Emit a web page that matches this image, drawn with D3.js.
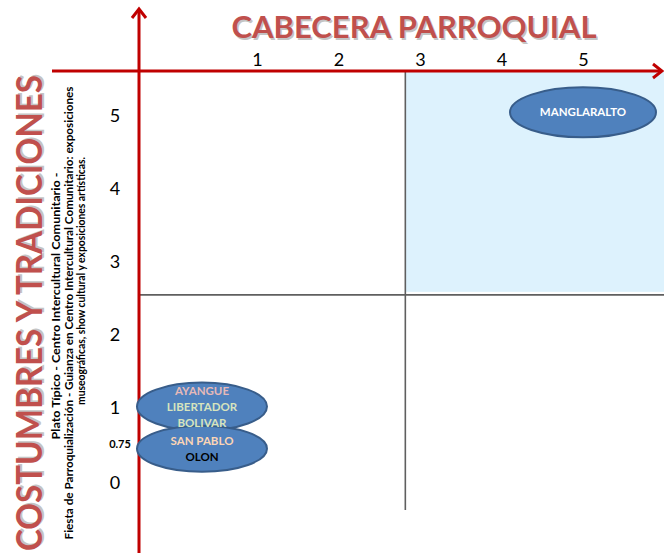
<!DOCTYPE html>
<html><head><meta charset="utf-8">
<script src="https://cdn.jsdelivr.net/npm/d3@7"></script>
<style>html,body{margin:0;padding:0;background:#fff;}svg{display:block;}</style>
</head><body>
<script>
// ---------- data ----------
const xTickLabels = ["1", "2", "3", "4", "5"];
const xTickValues = [1, 2, 3, 4, 5];
const yTickLabels = ["0", "0.75", "1", "2", "3", "4", "5"];
const yTickValues = [0, 0.75, 1, 2, 3, 4, 5];
const xTitle = "CABECERA PARROQUIAL";
const yTitle = "COSTUMBRES Y TRADICIONES";
const yNotes = [
  "Plato Típico - Centro Intercultural Comunitario -",
  "Fiesta de Parroquialización - Guianza en Centro  Intercultural  Comunitario: exposiciones",
  "museográficas, show cultural y exposiciones artísticas."
];
const divider = { x: 2.82, y: 2.55 };
const siteNames = [["MANGLARALTO"], ["AYANGUE", "LIBERTADOR", "BOLIVAR"], ["SAN PABLO", "OLON"]];
const siteX = [5, 0.325, 0.325];
const siteY = [5.05, 1.02, 0.66];
const nameColors = {
  "MANGLARALTO": "#ffffff", "AYANGUE": "#e6b9b8", "LIBERTADOR": "#d7e4bd",
  "BOLIVAR": "#d7e4bd", "SAN PABLO": "#fcd5b5", "OLON": "#000000"
};

// ---------- layout ----------
const W = 664, H = 553;
const red = "#c00000";
const svg = d3.select("body").append("svg").attr("width", W).attr("height", H);

const x = d3.scaleLinear().domain([1, 5]).range([257, 583]);
const y = d3.scaleLinear().domain([0, 0.75, 1, 5]).range([483, 444, 408, 116]);
const axisX = 139, axisY = 71;
const font = "Lato, 'Open Sans', sans-serif";

// highlighted quadrant
svg.append("rect")
  .attr("x", x(divider.x)).attr("y", axisY)
  .attr("width", W - x(divider.x)).attr("height", y(divider.y) - 3 - axisY)
  .attr("fill", "#ddf2fd");

// dividers
svg.append("line").attr("x1", axisX).attr("x2", W).attr("y1", y(divider.y)).attr("y2", y(divider.y))
  .attr("stroke", "#5f5f5f").attr("stroke-width", 1.6);
svg.append("line").attr("x1", x(divider.x)).attr("x2", x(divider.x)).attr("y1", axisY).attr("y2", 510)
  .attr("stroke", "#5f5f5f").attr("stroke-width", 1.6);

// axes lines with arrows
svg.append("line").attr("x1", 52).attr("x2", 661).attr("y1", axisY).attr("y2", axisY)
  .attr("stroke", red).attr("stroke-width", 3);
svg.append("path").attr("d", `M${653},${axisY - 7} L${662},${axisY} L${653},${axisY + 7}`)
  .attr("fill", "none").attr("stroke", red).attr("stroke-width", 3);
svg.append("line").attr("x1", axisX).attr("x2", axisX).attr("y1", 10).attr("y2", H)
  .attr("stroke", red).attr("stroke-width", 3);
svg.append("path").attr("d", `M${axisX - 7},${18} L${axisX},${9} L${axisX + 7},${18}`)
  .attr("fill", "none").attr("stroke", red).attr("stroke-width", 3);

// x tick labels (top axis)
const xAxis = d3.axisTop(x).tickValues(xTickValues).tickFormat((d, i) => xTickLabels[i]).tickSize(0).tickPadding(0);
const gx = svg.append("g").attr("transform", `translate(0,66)`).call(xAxis);
gx.select(".domain").remove();
gx.selectAll("text").attr("font-family", font).attr("font-size", 18).attr("fill", "#000").attr("dy", 0);

// y tick labels
const yAxis = d3.axisLeft(y).tickValues(yTickValues).tickFormat((d, i) => yTickLabels[i]).tickSize(0).tickPadding(0);
const gy = svg.append("g").attr("transform", `translate(115,0)`).call(yAxis);
gy.select(".domain").remove();
gy.selectAll("text").attr("font-family", font).attr("text-anchor", "middle")
  .attr("font-size", d => d === 0.75 ? 11 : 18)
  .attr("font-weight", d => d === 0.75 ? "bold" : "normal")
  .attr("fill", "#000");
gy.selectAll(".tick").filter(d => d === 0.75).select("text").attr("x", 5);

// titles
function shadowText(g, txt, opts) {
  const mk = (dx, dy, fill, op) => g.append("text")
    .attr("x", opts.x + dx).attr("y", opts.y + dy)
    .attr("text-anchor", "middle").attr("font-family", font).attr("font-weight", "bold")
    .attr("font-size", opts.size).attr("textLength", opts.len).attr("lengthAdjust", "spacingAndGlyphs")
    .attr("fill", fill).attr("opacity", op).text(txt);
  mk(1.5, 1.5, "#8a8a8a", 0.5);
  mk(0, 0, "#c0504d", 1);
}
shadowText(svg.append("g"), xTitle, { x: 414, y: 38, size: 31, len: 365 });
shadowText(svg.append("g").attr("transform", "translate(42,313) rotate(-90)"), yTitle, { x: 0, y: 0, size: 37, len: 476 });

// notes
const noteGeo = [{ bx: 60, cy: 306, len: 267 }, { bx: 73, cy: 313, len: 453 }, { bx: 85, cy: 281, len: 248 }];
yNotes.forEach((t, i) => {
  svg.append("text").attr("transform", `translate(${noteGeo[i].bx},${noteGeo[i].cy}) rotate(-90)`)
    .attr("text-anchor", "middle").attr("font-family", font).attr("font-weight", "bold")
    .attr("font-size", 10.5).attr("textLength", noteGeo[i].len).attr("lengthAdjust", "spacingAndGlyphs")
    .attr("fill", "#000").text(t);
});

// sites (ellipses first, then labels on top)
const sites = siteNames.map((n, i) => ({ names: n, x: siteX[i], y: siteY[i] }));
const rx = [73, 65, 65], ry = [25, 24, 23];
sites.forEach((s, i) => {
  svg.append("ellipse").attr("cx", x(s.x)).attr("cy", y(s.y)).attr("rx", rx[i]).attr("ry", ry[i])
    .attr("fill", "#4f81bd").attr("stroke", "#385d8a").attr("stroke-width", 2);
});
sites.forEach((s, i) => {
  const g = svg.append("g").attr("transform", `translate(${x(s.x)},${y(s.y)})`);
  const n = s.names.length, lh = 16;
  s.names.forEach((nm, j) => {
    g.append("text").attr("y", (j - (n - 1) / 2) * lh).attr("dy", "0.35em")
      .attr("text-anchor", "middle").attr("font-family", font).attr("font-weight", "bold")
      .attr("font-size", 11.5).attr("fill", nameColors[nm]).text(nm);
  });
});
</script>
</body></html>
